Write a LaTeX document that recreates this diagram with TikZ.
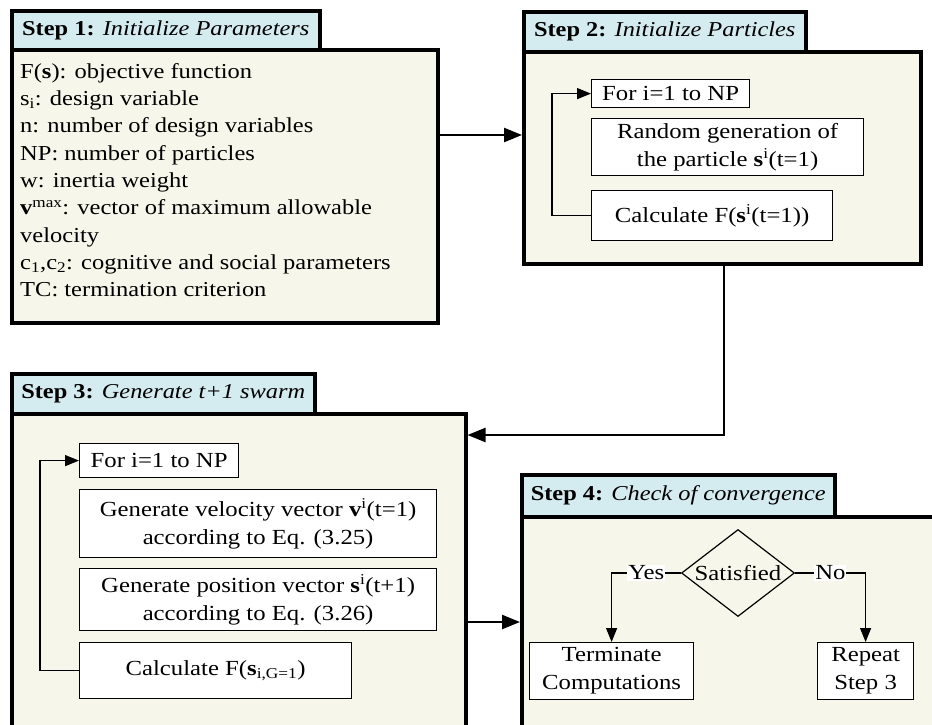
\documentclass[tikz,border=0pt]{standalone}
\usepackage{fontspec}
\setmainfont{Liberation Serif}[FakeStretch=1.15]
\usetikzlibrary{shapes.geometric,arrows.meta,calc,shadows}
\definecolor{tabblue}{RGB}{212,235,240}
\definecolor{cream}{RGB}{246,246,234}
\begin{document}
\begin{tikzpicture}[x=1pt,y=-1pt,
 outshadow/.style={drop shadow={shadow xshift=1.5pt, shadow yshift=-1.5pt, fill=black!45, opacity=1}},
 tabbox/.style={draw, line width=3.5pt, fill=tabblue, anchor=north west, inner sep=0pt, outshadow},
 bodybox/.style={draw, line width=3.5pt, fill=cream, anchor=north west, inner sep=0pt, outshadow},
 inbox/.style={draw, line width=1.2pt, fill=white, anchor=north west, inner sep=0pt, align=center, font=\fontsize{21.5}{28}\selectfont},
 mainarrow/.style={line width=2.4pt, -{Triangle[length=18pt,width=14pt]}},
 innerarrow/.style={line width=1.3pt, -{Triangle[length=14pt,width=11pt]}},
 titlefont/.style={font=\fontsize{21.2}{26}\selectfont},
 lbl/.style={fill=white, inner sep=1pt, font=\fontsize{21.5}{26}\selectfont}
]
\useasboundingbox (0,0) rectangle (932,724);
\clip (0,0) rectangle (932,724);

% Step 1
\node[bodybox, minimum width=426pt, minimum height=273pt] (b1) at (10,48) {};
\node[tabbox, minimum width=308pt, minimum height=39pt, titlefont] (t1) at (10,9) {\textbf{Step 1:} \textit{Initialize Parameters}};
\node[anchor=north west, align=left, inner sep=0pt, font=\fontsize{21.3}{27.3}\selectfont] (p1) at (20,63)
 {F(\textbf{s}): objective function\\
  s\textsubscript{i}: design variable\\
  n: number of design variables\\
  NP: number of particles\\
  w: inertia weight\\
  \textbf{v}\textsuperscript{max}: vector of maximum allowable\\
  velocity\\
  c\textsubscript{1},c\textsubscript{2}: cognitive and social parameters\\
  TC: termination criterion};

% Step 2
\node[bodybox, minimum width=397pt, minimum height=212pt] (b2) at (522,50) {};
\node[tabbox, minimum width=282pt, minimum height=40pt, titlefont] (t2) at (522,10) {\textbf{Step 2:} \textit{Initialize Particles}};
\node[inbox, minimum width=158pt, minimum height=28pt] (for2) at (591,79) {For i=1 to NP};
\node[inbox, minimum width=272pt, minimum height=57pt] (rand2) at (591,118) {Random generation of\\the particle \textbf{s}\textsuperscript{i}(t=1)};
\node[inbox, minimum width=241pt, minimum height=50pt] (calc2) at (591,190) {Calculate F(\textbf{s}\textsuperscript{i}(t=1))};

% Step 3
\node[bodybox, minimum width=454pt, minimum height=340pt] (b3) at (10,412) {};
\node[tabbox, minimum width=303pt, minimum height=40pt, titlefont] (t3) at (10,372) {\textbf{Step 3:} \textit{Generate t+1 swarm}};
\node[inbox, minimum width=159pt, minimum height=34pt] (for3) at (79,443) {For i=1 to NP};
\node[inbox, minimum width=357pt, minimum height=68pt] (vel3) at (79,489) {Generate velocity vector \textbf{v}\textsuperscript{i}(t=1)\\according to Eq. (3.25)};
\node[inbox, minimum width=357pt, minimum height=62pt] (pos3) at (79,568) {Generate position vector \textbf{s}\textsuperscript{i}(t+1)\\according to Eq. (3.26)};
\node[inbox, minimum width=272pt, minimum height=56pt] (calc3) at (79,642) {Calculate F(\textbf{s}\textsubscript{i,G=1})};

% Step 4
\node[bodybox, minimum width=440pt, minimum height=240pt] (b4) at (520,515) {};
\node[tabbox, minimum width=313pt, minimum height=42pt, titlefont] (t4) at (520,473) {\textbf{Step 4:} \textit{Check of convergence}};
\node[draw, diamond, line width=1.2pt, aspect=1.3, inner sep=0pt, minimum width=113pt, minimum height=87pt, fill=cream, font=\fontsize{21.5}{26}\selectfont] (dia) at (738,573) {Satisfied};
\node[inbox, minimum width=164pt, minimum height=57pt] (term) at (529,642) {Terminate\\Computations};
\node[inbox, minimum width=96pt, minimum height=57pt] (rep) at (817,642) {Repeat\\Step 3};

% connectors
\coordinate (c12) at (436,135);
\draw[mainarrow] (c12) -- (c12 -| b2.west);
\coordinate (j23) at (724,435);
\draw[mainarrow] (b2.south -| j23) -- (j23) -- (j23 -| b3.east);
\coordinate (c34) at (464,622);
\draw[mainarrow] (c34) -- (c34 -| b4.west);

\draw[innerarrow] (calc2.west) -- ++(-39,0) |- (for2.west);
\draw[innerarrow] (calc3.west) -- ++(-39,0) |- (for3.west);
\draw[innerarrow] (dia.west) -| node[lbl, pos=0.25] {Yes} (term.north);
\draw[innerarrow] (dia.east) -| node[lbl, pos=0.25] {No} (rep.north);
\end{tikzpicture}
\end{document}
